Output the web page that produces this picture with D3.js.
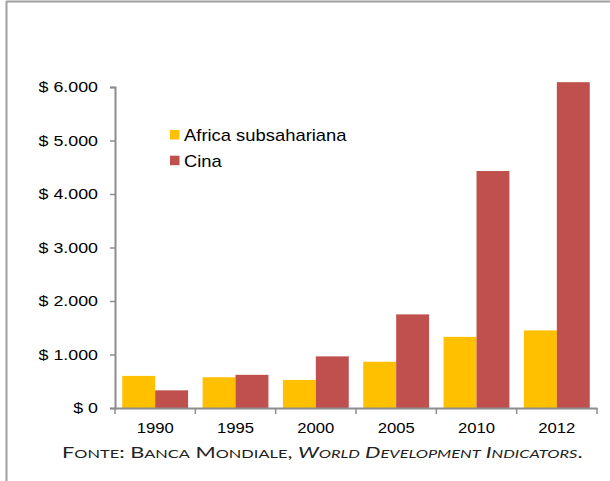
<!DOCTYPE html>
<html><head><meta charset="utf-8">
<script src="https://cdn.jsdelivr.net/npm/d3@7"></script>
<style>body{margin:0;background:#fff}svg{display:block}</style>
</head><body>
<script>
const years = ["1990","1995","2000","2005","2010","2012"];
const africa = [600, 575, 525, 865, 1330, 1450];
const cina = [330, 620, 965, 1750, 4430, 6090];
const seriesNames = ["Africa subsahariana","Cina"];
const seriesColors = ["#FFC000","#C0504D"];
const yTicks = [0,1000,2000,3000,4000,5000,6000];

const W = 610, H = 481;
const SX = 1.15; // horizontal stretch of the text in the reference
const FONT = "Liberation Sans, Arial, sans-serif";
const svg = d3.select("body").append("svg").attr("width",W).attr("height",H);

// frame
svg.append("line").attr("x1",6).attr("x2",W).attr("y1",1.5).attr("y2",1.5).attr("stroke","#a0a0a0").attr("stroke-width",2);
svg.append("line").attr("x1",6.5).attr("x2",6.5).attr("y1",1).attr("y2",H).attr("stroke","#a0a0a0").attr("stroke-width",2);

const x0 = d3.scaleBand().domain(years).range([115,597]).paddingInner(0).paddingOuter(0);
const x1 = d3.scaleBand().domain([0,1]).range([0,x0.bandwidth()]).paddingInner(0).paddingOuter(0.22);
const y = d3.scaleLinear().domain([0,6000]).range([408,87]);

const fmt = v => "$ " + d3.format(",")(v).replace(/,/g,".");

const data = years.map((yr,i)=>({yr, vals:[africa[i], cina[i]]}));
const g = svg.append("g");
g.selectAll("g.grp").data(data).join("g").attr("class","grp")
  .attr("transform",d=>`translate(${x0(d.yr)},0)`)
  .selectAll("rect").data(d=>d.vals.map((v,k)=>({v,k}))).join("rect")
  .attr("x",d=>x1(d.k)).attr("width",x1.bandwidth())
  .attr("y",d=>y(d.v)).attr("height",d=>y(0)-y(d.v))
  .attr("fill",d=>seriesColors[d.k]);

// y axis
const ya = svg.append("g").attr("transform","translate(115,0)")
  .call(d3.axisLeft(y).tickValues(yTicks).tickFormat(fmt).tickSize(5).tickPadding(12));
ya.select(".domain").attr("stroke","#8c8c8c").attr("stroke-width",2);
ya.selectAll(".tick line").attr("stroke","#8c8c8c").attr("stroke-width",1.5);
ya.selectAll("text").attr("font-family",FONT).attr("font-size",15.5).attr("fill","#000")
  .attr("x",-17/SX).attr("transform",`scale(${SX},1)`);

// x axis
const xa = svg.append("g").attr("transform","translate(0,408)")
  .call(d3.axisBottom(x0).tickSize(0).tickPadding(15));
xa.select(".domain").attr("stroke","#8c8c8c").attr("stroke-width",2);
xa.selectAll("text").attr("font-family",FONT).attr("font-size",14.5).attr("fill","#000")
  .attr("transform",`scale(${SX},1)`);
// category boundary ticks
const bounds = years.map(yv=>x0(yv)).concat([x0.range()[1]]);
svg.append("g").selectAll("line").data(bounds).join("line")
  .attr("x1",d=>d).attr("x2",d=>d).attr("y1",408).attr("y2",414)
  .attr("stroke","#8c8c8c").attr("stroke-width",1.5);

// legend
const leg = svg.append("g").attr("transform","translate(170,130)");
seriesNames.forEach((n,i)=>{
  leg.append("rect").attr("x",0).attr("y",i*25.7).attr("width",9.5).attr("height",9.5).attr("fill",seriesColors[i]);
  leg.append("g").attr("transform",`translate(14,${i*25.7+11}) scale(${SX},1)`)
    .append("text").text(n)
    .attr("font-family",FONT).attr("font-size",16).attr("fill","#000");
});

// source (manual small caps)
const srcG = svg.append("g").attr("transform","translate(62,458)");
const src = srcG.append("text").attr("x",0).attr("y",0)
  .attr("font-family","Lato, 'Open Sans', sans-serif").attr("fill","#222");
const BIG = 15, SMALL = 11.3;
function addSC(str, italic){
  const parts = str.match(/[a-z]+|[^a-z]+/g);
  parts.forEach(p=>{
    const lower = /^[a-z]+$/.test(p);
    const t = src.append("tspan").text(lower ? p.toUpperCase() : p)
      .attr("font-size", lower ? SMALL : BIG);
    if (italic) t.attr("font-style","italic");
  });
}
addSC("Fonte: Banca Mondiale, ", false);
addSC("World Development Indicators", true);
addSC(".", false);
const w = src.node().getComputedTextLength();
src.attr("transform",`scale(${521/w},1)`);
</script>
</body></html>
